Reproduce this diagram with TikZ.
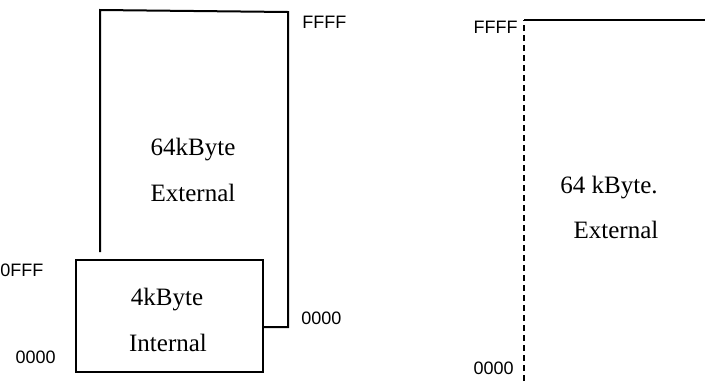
\documentclass[tikz,border=0pt]{standalone}
\usepackage{fontspec}
\setmainfont{Liberation Serif}
\newfontfamily\hexfont{Liberation Sans}
\tikzset{
  addr/.style={font=\hexfont\fontsize{9}{10}\selectfont, inner sep=0pt},
  memtext/.style={font=\fontsize{12.5}{15}\selectfont, inner sep=0pt},
  memline/.style={line width=1pt, line join=miter}
}
\begin{document}
\begin{tikzpicture}[x=0.5pt, y=-0.5pt]
            \useasboundingbox (0,0) rectangle (705,381);
            % 64k external, left map
            \coordinate (A) at (100,252);
            \coordinate (B) at (100,10);
            \coordinate (C) at (288,12);
            \coordinate (D) at (288,327);
            \coordinate (E) at (263,327);
            % 4k internal
            \coordinate (F) at (76,260);
            \coordinate (G) at (263,260);
            \coordinate (H) at (263,372);
            \coordinate (I) at (76,372);
            \draw[memline] (A) -- (B) -- (C) -- (D) -- (E);
            \draw[memline] (F) -- (G) -- (H) -- (I) -- cycle;
            \node[memtext] (ext64) at (193,150) {64kByte};
            \node[memtext] (extlbl) at (193,193) {External};
            \node[memtext] (int4) at (167,300) {4kByte};
            \node[memtext] (intlbl) at (168,343) {Internal};
            \node[addr, anchor=west] (topL) at (302,22) {FFFF};
            \node[addr, anchor=west] (offfL) at (0,270) {0FFF};
            \node[addr, anchor=east] (zeroL) at (56,357) {0000};
            \node[addr, anchor=west] (zeroM) at (301,318) {0000};
            % 64k external, right map
            \coordinate (J) at (524,381);
            \coordinate (K) at (524,20);
            \coordinate (L) at (705,20);
            \draw[line width=0.6pt, dash pattern=on 3pt off 2pt] (J) -- (K);
            \draw[line width=0.8pt] (K) -- (L);
            \node[memtext] (ext64R) at (609,188) {64 kByte.};
            \node[memtext] (extlblR) at (616,230) {External};
            \node[addr, anchor=east] (topR) at (518,27) {FFFF};
            \node[addr, anchor=east] (zeroR) at (514,368) {0000};
        \end{tikzpicture}
\end{document}
